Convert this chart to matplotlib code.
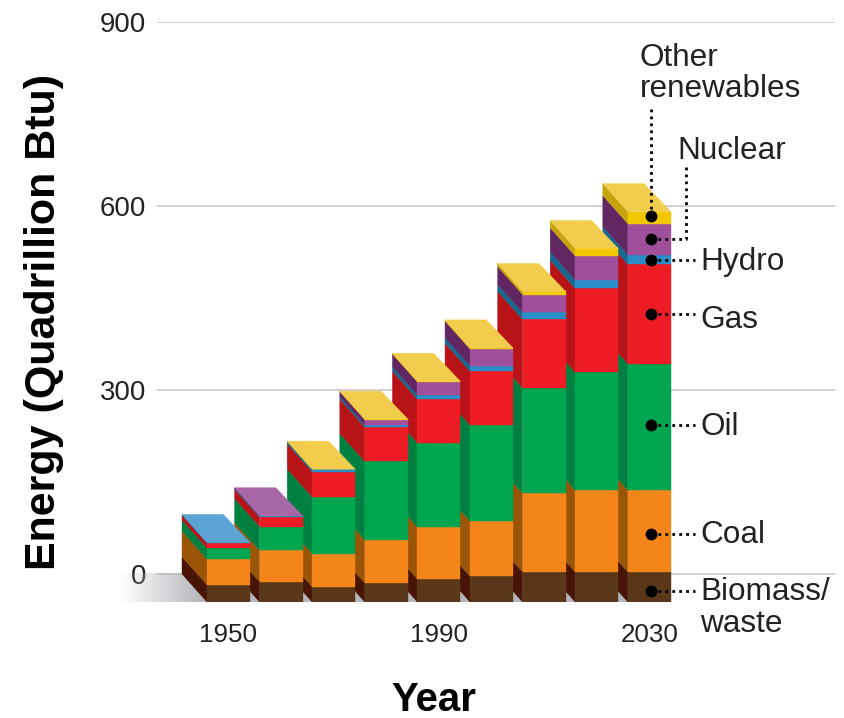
import numpy as np
from matplotlib import pyplot as plt

plt.rcParams['font.family'] = ['Liberation Sans', 'DejaVu Sans']

years = [1950, 1960, 1970, 1980, 1990, 2000, 2010, 2020, 2030]

# quadrillion Btu per source
biomass = [28, 33, 25, 31, 37.5, 42, 49, 49, 49]
coal = [42, 51, 54, 70, 85, 90, 128, 133, 133]
oil = [18, 39, 92, 128, 137, 156.5, 172, 192, 206]
gas = [8, 15, 41, 56, 71, 87.5, 111.5, 137, 162]
hydro = [1, 2, 4, 4, 7, 9, 11.5, 14, 16]
nuclear = [0, 0.5, 0, 8, 21, 27, 29, 39, 50.5]
other = [0, 0, 0.5, 1, 1, 2, 5, 12, 19.5]

layers = [biomass, coal, oil, gas, hydro, nuclear, other]
front_colors = ['#5a3719', '#f48518', '#00a550', '#ed1c24', '#2a8dc5', '#a0509b', '#f2c800']
side_colors = ['#471405', '#9b5506', '#008040', '#b81316', '#17688f', '#622663', '#c7a40e']
top_colors = ['#5a3719', '#f48518', '#00a550', '#ed1c24', '#5ba3d3', '#a868a8', '#f2cd4d']

bar_width = 8.17
depth_x = 4.75
depth_y = 45.65
dotted = (0, (1, 1.5))

fig = plt.figure(figsize=(8.44, 7.18), dpi=100)
ax = fig.add_axes([157 / 844, 1 - 602 / 718, 678 / 844, 580.4 / 718])

# floor fading out to the left
ramp = np.clip(np.linspace(-0.03, 6.2, 300), 0, 1)
floor = np.zeros((2, 300, 4))
floor[..., :3] = [0.71, 0.72, 0.74]
floor[..., 3] = ramp
ax.imshow(floor, extent=[1928.6, 2027, -depth_y, 0], aspect='auto', zorder=1, clip_on=False,
          interpolation='bilinear')

# right to left, the nearer bars cover the sides of the ones behind
z = 2
for i in range(len(years) - 1, -1, -1):
    left = years[i] - bar_width / 2
    bottom = 0
    top_idx = 0
    for j, layer in enumerate(layers):
        h = layer[i]
        if h == 0:
            continue
        ax.fill([left - depth_x, left, left, left - depth_x],
                [bottom, bottom - depth_y, bottom + h - depth_y, bottom + h],
                color=side_colors[j], lw=0.3, zorder=z)
        ax.bar(years[i], h, bar_width, bottom=bottom - depth_y, color=front_colors[j],
               edgecolor=front_colors[j], lw=0.3, zorder=z)
        bottom += h
        top_idx = j
    ax.fill([left - depth_x, left - depth_x + bar_width * 0.96, left + bar_width, left],
            [bottom, bottom, bottom - depth_y, bottom - depth_y],
            color=top_colors[top_idx], lw=0.3, zorder=z)
    z += 1

# leaders from the 2030 bar to the source names
dot_x = 2030.4
dot_frac = [0.36, 0.47, 0.52, 0.5, 0.5, 0.5, 0.6]
ends = [2038.7, 2038.7, 2038.7, 2038.7, 2038.7, None, None]
dot_y = []
bottom = 0
for j, layer in enumerate(layers):
    h = layer[-1]
    y = bottom + h * dot_frac[j] - depth_y
    dot_y.append(y)
    bottom += h
    if ends[j] is not None:
        ax.plot([dot_x, ends[j]], [y, y], color='black', lw=2, ls=dotted, zorder=z)
ax.plot([dot_x, 2037, 2037], [dot_y[5], dot_y[5], 663.6], color='black', lw=2, ls=dotted, zorder=z)
ax.plot([dot_x, dot_x], [dot_y[6], 761], color='black', lw=2, ls=dotted, zorder=z)
ax.plot([dot_x] * 7, dot_y, 'o', color='black', ms=8.5, mew=0, zorder=z + 1)

names = ['Biomass/\nwaste', 'Coal', 'Oil', 'Gas', 'Hydro']
for name, y in zip(names, [-55, 63, 240, 414, 509]):
    ax.text(2039.7, y, name, fontsize=22.7, va='center', ha='left', linespacing=1.1, color='#222222')
ax.text(2035.3, 689, 'Nuclear', fontsize=22.7, va='center', ha='left', color='#222222')
ax.text(2028.2, 815, 'Other\nrenewables', fontsize=22.7, va='center', ha='left', linespacing=1.05,
        color='#222222')

ax.set_xlim(1936.41, 2065.3)
ax.set_ylim(-depth_y, 900)
ax.set_yticks([0, 300, 600, 900])
ax.set_xticks([1950, 1990, 2030])
ax.tick_params(axis='x', length=0, pad=15, labelsize=18.7, labelcolor='#222222')
ax.tick_params(axis='y', length=0, pad=8, labelsize=19.9, labelcolor='#222222')
ax.yaxis.grid(True, color='#c8c8c8', lw=1.2, zorder=0)
ax.set_axisbelow(True)
for spine in ax.spines.values():
    spine.set_visible(False)
ax.patch.set_alpha(0)

ax.set_ylabel('Energy (Quadrillion Btu)', fontsize=31, fontweight='bold', color='black')
ax.yaxis.set_label_coords(-0.137, 0.482)
ax.set_xlabel('Year', fontsize=29, fontweight='bold', color='black')
ax.xaxis.set_label_coords(0.4086, -0.136)

plt.savefig('out.png', dpi=100)
